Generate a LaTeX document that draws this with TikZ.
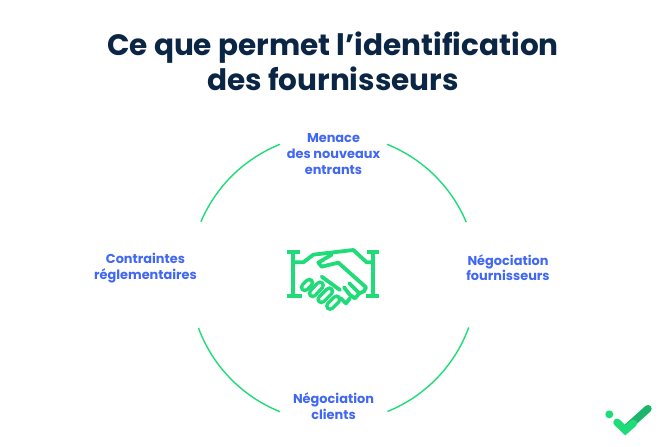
\documentclass[tikz,border=0pt]{standalone}
\usepackage{fontspec}
\setmainfont{Poppins}
\definecolor{navy}{HTML}{0B2545}
\definecolor{lblue}{HTML}{4167F5}
\definecolor{mint}{HTML}{1FDB78}
\definecolor{mintdark}{HTML}{1CB56A}
\tikzset{
  title/.style={font=\fontsize{29.5}{35}\selectfont\bfseries,text=navy,align=center,inner sep=0pt},
  lab/.style={font=\fontsize{12.9}{15.6}\selectfont\bfseries,text=lblue,align=center,inner sep=0pt},
  ring/.style={draw=mint,line width=1.4pt},
  ico/.style={draw=mint,line width=3.8pt,line join=round,line cap=round},
  fing/.style={draw=mint,line width=3.5pt,line cap=round,double=white,double distance=3pt}
}
\begin{document}
\begin{tikzpicture}[x=1pt,y=1pt]
\useasboundingbox (0,0) rectangle (667,447);
\node[title] (t) at (333,385.5) {Ce que permet l’identification\\des fournisseurs};
\node[lab] (a) at (333.5,293) {Menace\\des nouveaux\\entrants};
\node[lab] (b) at (145.5,179) {Contraintes\\réglementaires};
\node[lab] (c) at (508,179.5) {Négociation\\fournisseurs};
\node[lab] (d) at (333.5,41) {Négociation\\clients};
\coordinate (o) at (333.5,169);
\draw[ring] (o) ++(111.8:144) arc[start angle=111.8,end angle=157,radius=144];
\draw[ring] (o) ++(68.2:144) arc[start angle=68.2,end angle=22.8,radius=144];
\draw[ring] (o) ++(200.3:144) arc[start angle=200.3,end angle=248.2,radius=144];
\draw[ring] (o) ++(-20.1:144) arc[start angle=-20.1,end angle=-68,radius=144];
\begin{scope}[shift={(270,217)},x=0.3333pt,y=-0.3333pt]
 \draw[ico,line cap=butt] (52,66)--(90,66) (70,66)--(70,198) (52,198)--(95,198);
 \draw[ico,line cap=butt] (292,66)--(328,66) (310,66)--(310,198) (288,198)--(328,198);
 \draw[ico] (72,97)--(100,97)--(130,74)--(250,60)--(290,97)--(310,97);
 \draw[ico] (185,74)--(145,98)--(155,110)--(205,98)--(288,172)--(282,184)--(268,190)--(238,160);
 \draw[ico] (268,190)--(255,205)--(240,195)--(222,172);
 \draw[ico] (240,205)--(228,220)--(212,205);
 \draw[ico] (155,140)--(210,180);
 \draw[fing] (104,172)--(118,158);
 \draw[fing] (128,190)--(150,166);
 \draw[fing] (154,208)--(178,184);
 \draw[fing] (180,228)--(200,208);
\end{scope}
\begin{scope}[shift={(590,57)},x=0.3333pt,y=-0.3333pt]
 \fill[mint] (58,73) circle[radius=12];
 \draw[mintdark,line width=7.5pt,line cap=round] (112,112)--(174,56);
 \draw[mint,line width=7.5pt,line cap=round] (81,97)--(106,121)--(130,100);
\end{scope}
\end{tikzpicture}
\end{document}
